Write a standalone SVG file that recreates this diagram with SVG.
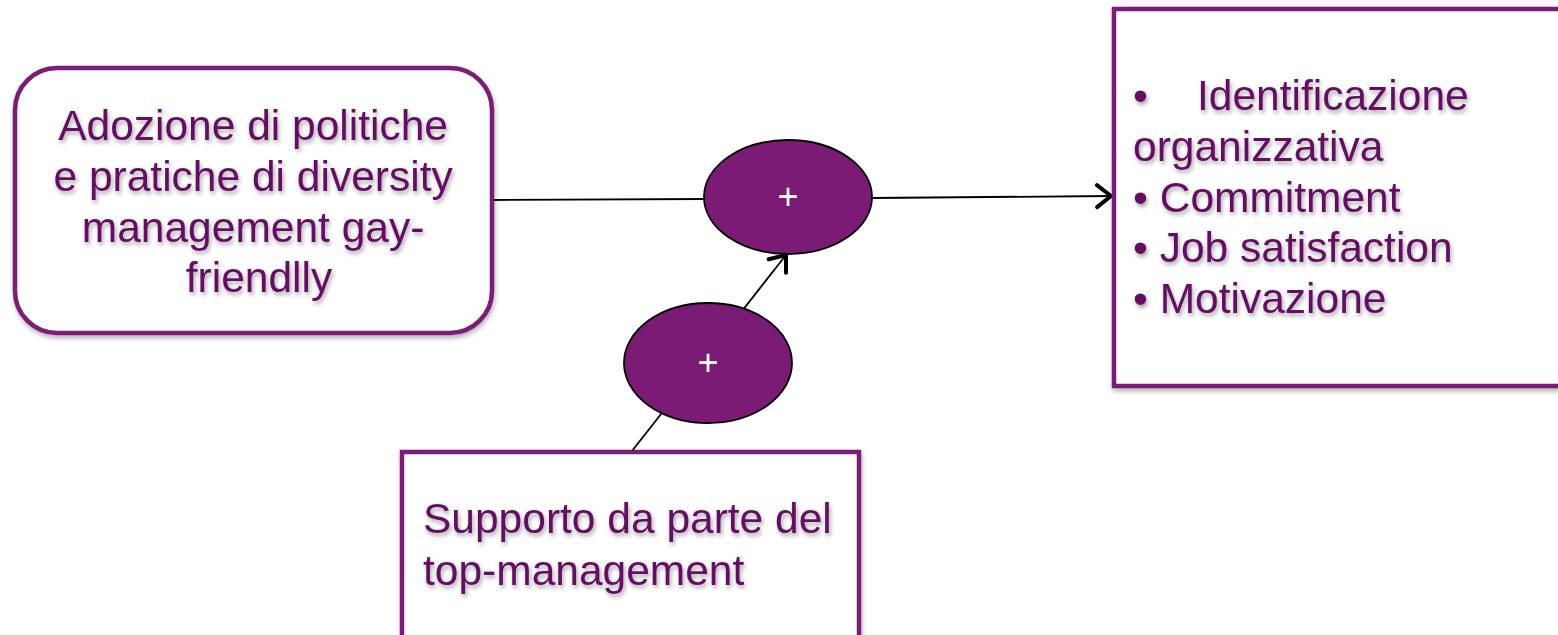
<svg xmlns="http://www.w3.org/2000/svg" width="1558" height="635" viewBox="0 0 1558 635">
  <defs>
    <filter id="ts" x="-10%" y="-30%" width="120%" height="160%">
      <feDropShadow dx="1.5" dy="3" stdDeviation="2" flood-color="#000" flood-opacity="0.35"/>
    </filter>
    <filter id="bs" x="-5%" y="-5%" width="110%" height="110%">
      <feDropShadow dx="1" dy="3" stdDeviation="2.5" flood-color="#000" flood-opacity="0.3"/>
    </filter>
    <marker id="arr" markerWidth="26" markerHeight="30" refX="20" refY="15" orient="auto" markerUnits="userSpaceOnUse">
      <path d="M6,4 L20,15 L6,26" fill="none" stroke="#000" stroke-width="4" stroke-linecap="round" stroke-linejoin="round"/>
    </marker>
  </defs>
  <style>
    .box { fill: #fff; stroke: #7B1B76; stroke-width: 4.5; filter: url(#bs); }
    .txt { font-family: "Liberation Sans", Arial, sans-serif; font-size: 42.5px; fill: #650A63; filter: url(#ts); }
    .ell { fill: #7B1B76; stroke: #000; stroke-width: 1.8; }
    .plus { font-family: "Liberation Sans", Arial, sans-serif; font-size: 36px; fill: #fff; text-anchor: middle; }
    .conn { stroke: #000; stroke-width: 1.8; fill: none; }
  </style>
  <rect width="1558" height="635" fill="#fff"/>

  <g id="connectors">
    <line class="conn" x1="492" y1="200" x2="705" y2="199"/>
    <line class="conn" x1="871" y1="198" x2="1111" y2="196" marker-end="url(#arr)"/>
    <line class="conn" x1="632" y1="451" x2="786" y2="255" marker-end="url(#arr)"/>
  </g>

  <g id="node-adozione">
    <rect class="box" x="15" y="68" width="477" height="265" rx="42" ry="42"/>
    <text class="txt" text-anchor="middle">
      <tspan x="259" y="140">Adozione di politiche</tspan>
      <tspan x="259" y="191">e pratiche di diversity</tspan>
      <tspan x="259" y="242">management gay-</tspan>
      <tspan x="259" y="292">friendlly</tspan>
    </text>
  </g>

  <g id="node-plus1">
    <ellipse class="ell" cx="788" cy="197" rx="84" ry="57"/>
    <text class="plus" x="788" y="209">+</text>
  </g>

  <g id="node-plus2">
    <ellipse class="ell" cx="708" cy="363" rx="84" ry="60"/>
    <text class="plus" x="708" y="375">+</text>
  </g>

  <g id="node-outcomes">
    <rect class="box" x="1114" y="9" width="470" height="377"/>
    <text class="txt">
      <tspan x="1133" y="110">•</tspan>
      <tspan x="1197" y="110">Identificazione</tspan>
      <tspan x="1133" y="161">organizzativa</tspan>
      <tspan x="1133" y="212">• Commitment</tspan>
      <tspan x="1133" y="262">• Job satisfaction</tspan>
      <tspan x="1133" y="313">• Motivazione</tspan>
    </text>
  </g>

  <g id="node-supporto">
    <rect class="box" x="402" y="452" width="457" height="200"/>
    <text class="txt">
      <tspan x="423" y="533">Supporto da parte del</tspan>
      <tspan x="423" y="585">top-management</tspan>
    </text>
  </g>
</svg>
